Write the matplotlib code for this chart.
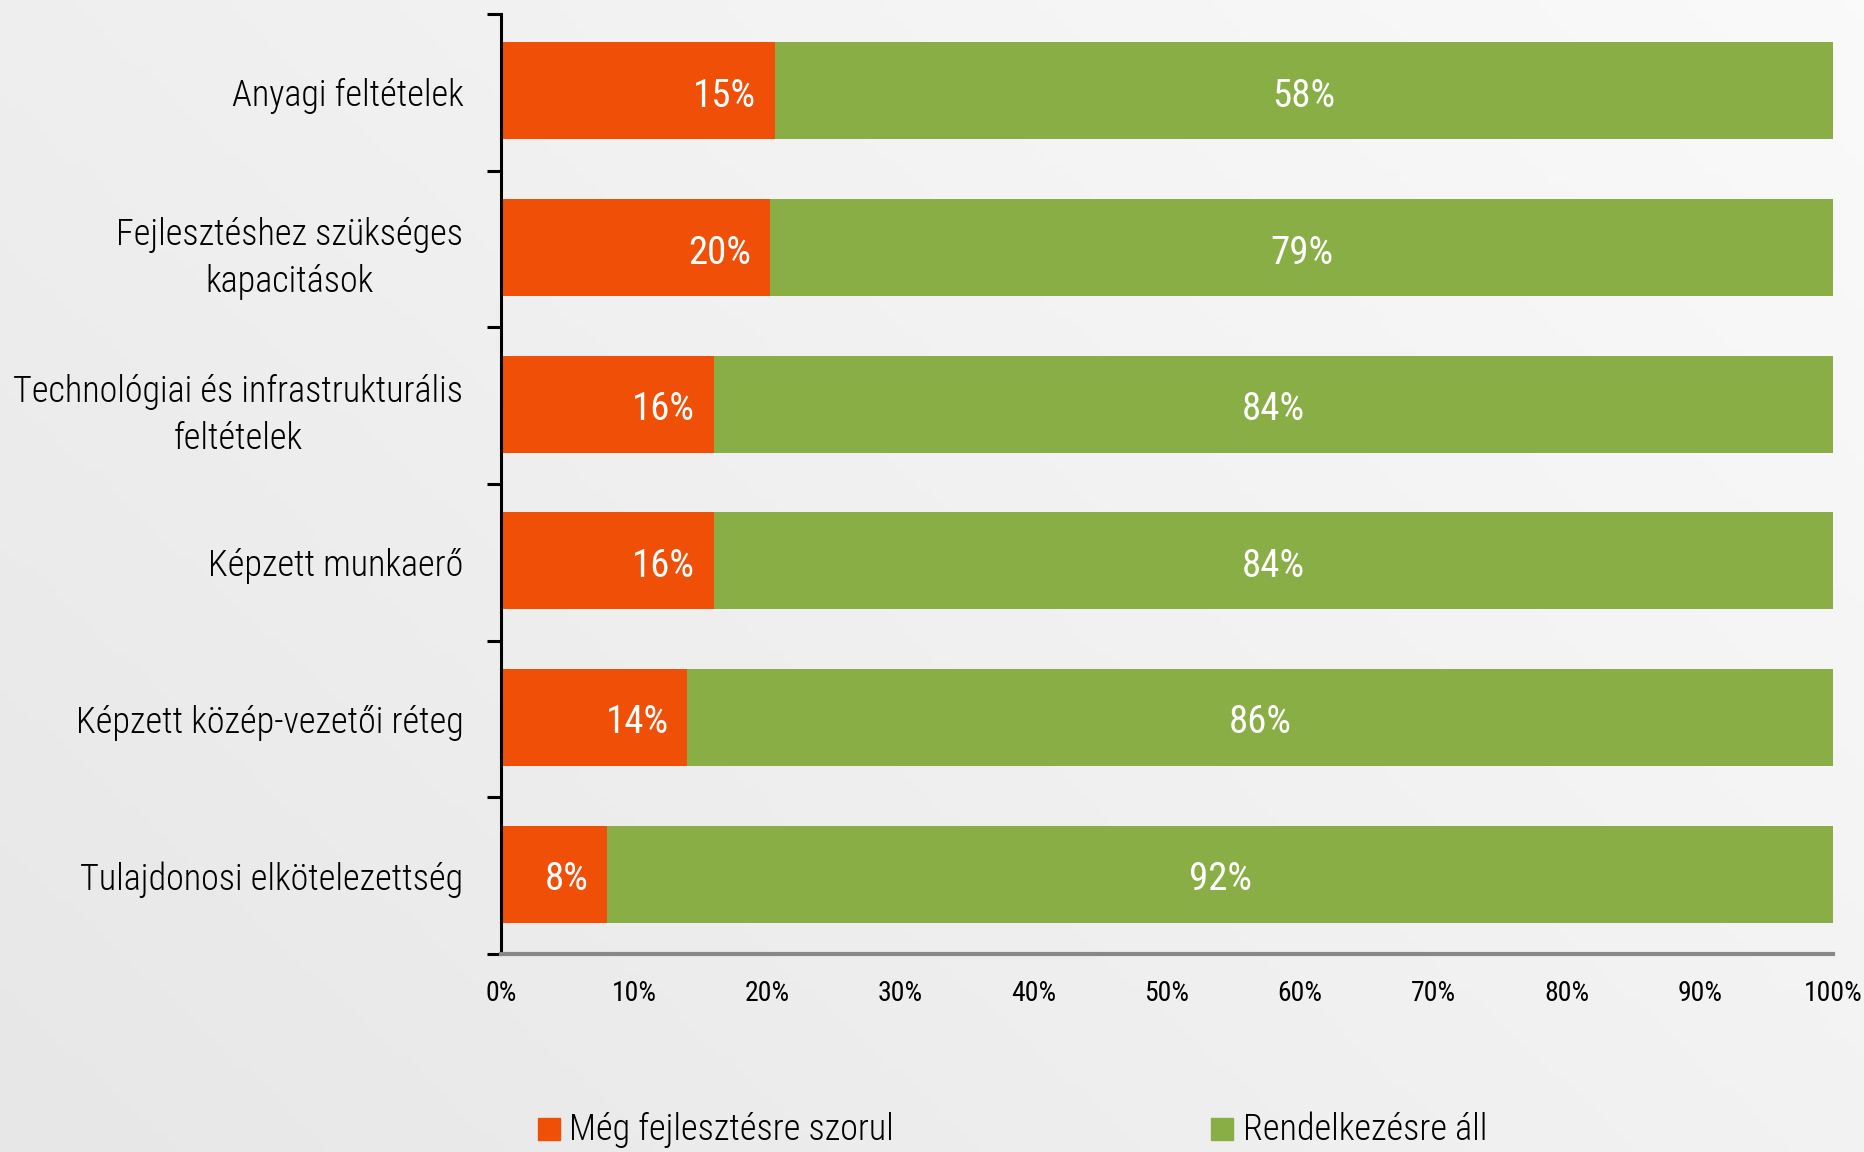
import numpy as np
import matplotlib as mpl
import matplotlib.pyplot as plt
from matplotlib import font_manager
mpl.use('agg')

categories = ['Anyagi feltételek', 'Fejlesztéshez szükséges\nkapacitások',
              'Technológiai és infrastrukturális\nfeltételek', 'Képzett munkaerő',
              'Képzett közép-vezetői réteg', 'Tulajdonosi elkötelezettség']
needs_dev = [15, 20, 16, 16, 14, 8]
available = [58, 79, 84, 84, 86, 92]
series_names = ['Még fejlesztésre szorul', 'Rendelkezésre áll']
xticks = [0, 10, 20, 30, 40, 50, 60, 70, 80, 90, 100]

orange = '#f04f08'
green = '#88ae45'

names = {f.name for f in font_manager.fontManager.ttflist}
font = 'Roboto'
for cand in ['Roboto Condensed', 'Liberation Sans Narrow']:
    if cand in names:
        font = cand
        break
plt.rcParams['font.family'] = [font, 'DejaVu Sans']

fig = plt.figure(figsize=(18.65, 11.52), dpi=100)

# background gradient
bg = fig.add_axes([0, 0, 1, 1], zorder=-10)
gx = np.linspace(0, 1, 200)
gy = np.linspace(0, 1, 120)
X, Y = np.meshgrid(gx, gy)
grad = np.clip(0.6 * X + 0.4 * Y, 0, 1)
bg.imshow(grad, cmap=mpl.colors.LinearSegmentedColormap.from_list('g', ['#e7e7e7', '#fafafa']),
          aspect='auto', extent=[0, 1, 0, 1], origin='lower')
bg.axis('off')

ax = fig.add_axes([0.2686, 0.1719, 0.9828 - 0.2686, 0.9878 - 0.1719])
ax.patch.set_alpha(0)

nd = np.array(needs_dev, float)
av = np.array(available, float)
tot = nd + av
p1 = nd / tot * 100
p2 = av / tot * 100
y = np.arange(len(categories))

ax.barh(y - 0.01, p1, height=0.62, color=orange, edgecolor='none')
ax.barh(y - 0.01, p2, left=p1, height=0.62, color=green, edgecolor='none')

for i in range(len(y)):
    ax.text(p1[i] - 1.4, y[i], f'{needs_dev[i]}%', ha='right', va='center_baseline',
            color='white', fontsize=28)
    ax.text(p1[i] + p2[i] / 2, y[i], f'{available[i]}%', ha='center', va='center_baseline',
            color='white', fontsize=28)

ax.set_xlim(0, 100)
ax.set_ylim(len(categories) - 0.5, -0.5)
ax.set_yticks(np.arange(len(categories) + 1) - 0.5)
ax.set_yticklabels([])
ax.set_yticks(y, minor=True)
ax.set_yticklabels(categories, minor=True, fontsize=26, linespacing=1.4,
                   fontweight='light', ha='right', multialignment='center')
ax.tick_params(axis='y', which='minor', length=0, pad=27)
ax.tick_params(axis='y', which='major', length=10, width=2.2, direction='out')

ax.set_xticks(xticks)
ax.set_xticklabels([f'{t}%' for t in xticks], fontsize=20, fontweight='normal')
ax.tick_params(axis='x', length=0, pad=19)

for s in ['top', 'right']:
    ax.spines[s].set_visible(False)
ax.spines['left'].set_linewidth(2.2)
ax.spines['bottom'].set_color('#888888')
ax.spines['bottom'].set_linewidth(3)

fig.patches.append(mpl.patches.Rectangle((538 / 1865, 1 - 1140 / 1152), 22 / 1865, 22 / 1152,
                                         transform=fig.transFigure, color=orange))
fig.text(569 / 1865, 1 - 1130 / 1152, series_names[0], fontsize=26, fontweight='light', va='center')
fig.patches.append(mpl.patches.Rectangle((1211 / 1865, 1 - 1140 / 1152), 22 / 1865, 22 / 1152,
                                         transform=fig.transFigure, color=green))
fig.text(1243 / 1865, 1 - 1130 / 1152, series_names[1], fontsize=26, fontweight='light', va='center')

fig.savefig('out.png', dpi=100)
